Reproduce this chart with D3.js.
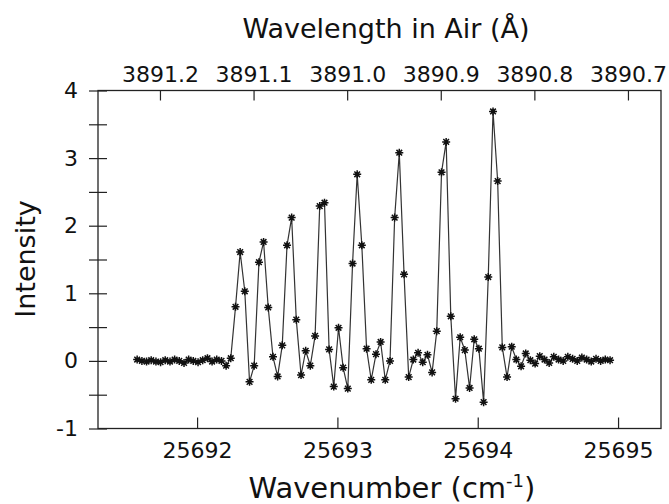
<!DOCTYPE html>
<html>
<head>
<meta charset="utf-8">
<script src="https://cdn.jsdelivr.net/npm/d3@7"></script>
<style>
  body { margin: 0; background: #fff; }
  text { font-family: "DejaVu Sans", Verdana, sans-serif; fill: #111; }
</style>
</head>
<body>
<div id="chart"></div>
<script>
// wavenumber of each sample (cm-1)
const wavenumber = [
  25691.573, 25691.607, 25691.640, 25691.673, 25691.707, 25691.740, 25691.773, 25691.807,
  25691.840, 25691.873, 25691.907, 25691.940, 25691.973, 25692.007, 25692.040, 25692.074,
  25692.107, 25692.140, 25692.174, 25692.207, 25692.240, 25692.274, 25692.307, 25692.340,
  25692.374, 25692.407, 25692.441, 25692.474, 25692.507, 25692.541, 25692.574, 25692.607,
  25692.641, 25692.674, 25692.707, 25692.741, 25692.774, 25692.807, 25692.841, 25692.874,
  25692.908, 25692.941, 25692.974, 25693.008, 25693.041, 25693.074, 25693.108, 25693.141,
  25693.174, 25693.208, 25693.241, 25693.275, 25693.308, 25693.341, 25693.375, 25693.408,
  25693.441, 25693.475, 25693.508, 25693.541, 25693.575, 25693.608, 25693.642, 25693.675,
  25693.708, 25693.742, 25693.775, 25693.808, 25693.842, 25693.875, 25693.908, 25693.942,
  25693.975, 25694.008, 25694.042, 25694.075, 25694.109, 25694.142, 25694.175, 25694.209,
  25694.242, 25694.275, 25694.309, 25694.342, 25694.375, 25694.409, 25694.442, 25694.476,
  25694.509, 25694.542, 25694.576, 25694.609, 25694.642, 25694.676, 25694.709, 25694.742,
  25694.776, 25694.809, 25694.843, 25694.876, 25694.909, 25694.943
];

// measured intensity
const intensity = [
  0.02, 0.00, -0.01, 0.01, -0.01, -0.02, 0.01, -0.01,
  0.02, 0.00, -0.03, 0.02, 0.00, -0.02, 0.01, 0.04,
  -0.01, 0.02, 0.00, -0.07, 0.04, 0.80, 1.61, 1.03,
  -0.31, -0.07, 1.46, 1.76, 0.79, 0.06, -0.23, 0.23,
  1.71, 2.12, 0.61, -0.21, 0.15, -0.07, 0.37, 2.29,
  2.34, 0.17, -0.38, 0.49, -0.10, -0.41, 1.44, 2.76,
  1.71, 0.18, -0.28, 0.10, 0.28, -0.28, 0.00, 2.12,
  3.08, 1.28, -0.24, 0.02, 0.12, -0.02, 0.09, -0.17,
  0.44, 2.79, 3.24, 0.66, -0.56, 0.35, 0.16, -0.40,
  0.32, 0.18, -0.61, 1.24, 3.69, 2.66, 0.20, -0.24,
  0.21, 0.02, -0.08, 0.11, 0.01, -0.04, 0.07, 0.02,
  -0.03, 0.06, 0.02, 0.00, 0.06, 0.03, 0.00, 0.05,
  0.02, -0.01, 0.03, 0.00, 0.02, 0.01
];

const bottomTicks = [25692, 25693, 25694, 25695];
const topTicks = [3891.2, 3891.1, 3891.0, 3890.9, 3890.8, 3890.7];
const yTicks = [-1, 0, 1, 2, 3, 4];
const yMinorTicks = [-0.5, 0.5, 1.5, 2.5, 3.5];

const data = wavenumber.map((w, i) => ({w: w, v: intensity[i]}));

const W = 669, H = 504;
const plot = {left: 98, right: 661, top: 90.5, bottom: 428.5};

const svg = d3.select("#chart")
    .append("svg")
    .attr("width", W)
    .attr("height", H);

// scales
const x = d3.scaleLinear()
    .domain([25691.294, 25695.306])
    .range([plot.left, plot.right]);
const xTop = d3.scaleLinear()
    .domain([3891.2662, 3890.6647])
    .range([plot.left, plot.right]);
const y = d3.scaleLinear()
    .domain([-1, 4])
    .range([plot.bottom, plot.top]);

// frame
svg.append("rect")
    .attr("x", plot.left)
    .attr("y", plot.top)
    .attr("width", plot.right - plot.left)
    .attr("height", plot.bottom - plot.top)
    .attr("fill", "none")
    .attr("stroke", "#222")
    .attr("stroke-width", 1.3);

// bottom axis
const xAxis = svg.append("g")
    .attr("transform", `translate(0,${plot.bottom})`)
    .call(d3.axisBottom(x).tickValues(bottomTicks).tickFormat(d3.format("d"))
        .tickSizeInner(-11).tickSizeOuter(0).tickPadding(14));
xAxis.select(".domain").remove();
xAxis.selectAll("text").attr("font-size", 22).style("font-family", "DejaVu Sans, sans-serif");
xAxis.selectAll("line").attr("stroke", "#222").attr("stroke-width", 1.2);

// top axis
const topAxis = svg.append("g")
    .attr("transform", `translate(0,${plot.top})`)
    .call(d3.axisTop(xTop).tickValues(topTicks).tickFormat(d3.format(".1f"))
        .tickSizeInner(-10).tickSizeOuter(0).tickPadding(9));
topAxis.select(".domain").remove();
topAxis.selectAll("text").attr("font-size", 22).style("font-family", "DejaVu Sans, sans-serif");
topAxis.selectAll("line").attr("stroke", "#222").attr("stroke-width", 1.2);

// left axis, ticks cross the line
const yAxis = svg.append("g")
    .attr("transform", `translate(${plot.left},0)`)
    .call(d3.axisLeft(y).tickValues(yTicks).tickFormat(d => String(d)).tickSizeOuter(0).tickPadding(14));
yAxis.select(".domain").remove();
yAxis.selectAll("line").attr("x1", -9).attr("x2", 9).attr("stroke", "#222").attr("stroke-width", 1.2);
yAxis.selectAll("text").attr("font-size", 22).style("font-family", "DejaVu Sans, sans-serif");

const yMinor = svg.append("g")
    .attr("transform", `translate(${plot.left},0)`)
    .call(d3.axisLeft(y).tickValues(yMinorTicks).tickFormat("").tickSizeOuter(0));
yMinor.select(".domain").remove();
yMinor.selectAll("line").attr("x1", -9).attr("x2", 9).attr("stroke", "#222").attr("stroke-width", 1.2);

// connecting line
svg.append("path")
    .datum(data)
    .attr("fill", "none")
    .attr("stroke", "#333")
    .attr("stroke-width", 1.2)
    .attr("d", d3.line().x(d => x(d.w)).y(d => y(d.v)));

// 8-armed asterisk marker
const star = {
    draw(context, size) {
        const r = Math.sqrt(size) / 2;
        const d = r * Math.SQRT1_2;
        context.moveTo(-r, 0); context.lineTo(r, 0);
        context.moveTo(0, -r); context.lineTo(0, r);
        context.moveTo(-d, -d); context.lineTo(d, d);
        context.moveTo(-d, d); context.lineTo(d, -d);
    }
};
svg.selectAll("path.pt")
    .data(data)
    .enter().append("path")
    .attr("class", "pt")
    .attr("transform", d => `translate(${x(d.w)},${y(d.v)})`)
    .attr("d", d3.symbol().type(star).size(64))
    .attr("fill", "none")
    .attr("stroke", "#111")
    .attr("stroke-width", 1.5);

// axis titles
svg.append("text")
    .attr("x", 386)
    .attr("y", 38)
    .attr("text-anchor", "middle")
    .attr("font-size", 27)
    .text("Wavelength in Air (Å)");

const xt = svg.append("text")
    .attr("x", 392)
    .attr("y", 498)
    .attr("text-anchor", "middle")
    .attr("font-size", 29);
xt.append("tspan").text("Wavenumber (cm");
xt.append("tspan").attr("font-size", 18).attr("dy", -11).text("-1");
xt.append("tspan").attr("dy", 11).text(")");

svg.append("text")
    .attr("transform", "translate(35,259) rotate(-90)")
    .attr("text-anchor", "middle")
    .attr("font-size", 27)
    .text("Intensity");
</script>
</body>
</html>
